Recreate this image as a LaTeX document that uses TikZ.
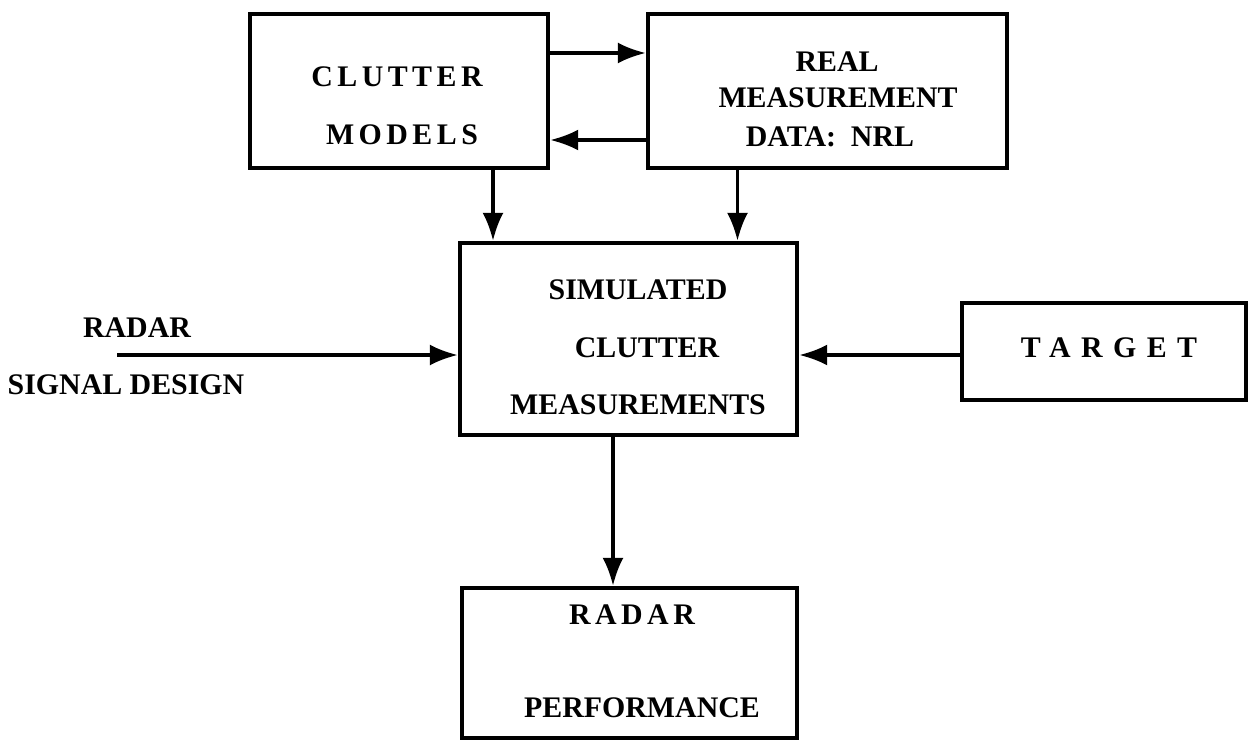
\documentclass[tikz,border=0pt]{standalone}
\usepackage{fontspec}
\setmainfont{Liberation Serif}
\newfontfamily\spacedfont[LetterSpace=15]{Liberation Serif}
\newfontfamily\widefont[LetterSpace=35]{Liberation Serif}
\usepackage{tikz}
\usetikzlibrary{arrows.meta}

\begin{document}
\begin{tikzpicture}[
  box/.style={draw=black, line width=1.2pt, inner sep=0pt},
  lbl/.style={font=\fontsize{8.5}{10}\selectfont\bfseries, inner sep=0pt},
  spc/.style={font=\fontsize{8.5}{10}\spacedfont\bfseries, inner sep=0pt},
  wide/.style={font=\fontsize{8.5}{10}\widefont\bfseries, inner sep=0pt},
  arr/.style={draw=black, line width=1pt, -{Latex[length=8pt,width=6pt]}}
]
\useasboundingbox (0,0) rectangle (12.53,-7.42);

\node[box, minimum width=2.98cm, minimum height=1.54cm] (clutter) at (3.99,-0.91) {};
\node[box, minimum width=3.59cm, minimum height=1.54cm] (real) at (8.275,-0.91) {};
\node[box, minimum width=3.37cm, minimum height=1.92cm] (sim) at (6.285,-3.39) {};
\node[box, minimum width=2.84cm, minimum height=0.97cm] (target) at (11.04,-3.515) {};
\node[box, minimum width=3.35cm, minimum height=1.5cm] (perf) at (6.295,-6.63) {};

\node[spc] (cm1) at (3.97,-0.77) {CLUTTER};
\node[spc] (cm2) at (4.02,-1.35) {MODELS};
\node[lbl] (rm1) at (8.37,-0.62) {REAL};
\node[lbl] (rm2) at (8.38,-0.98) {MEASUREMENT};
\node[lbl] (rm3) at (8.30,-1.37) {DATA:\ \ NRL};
\node[lbl] (sm1) at (6.38,-2.90) {SIMULATED};
\node[lbl] (sm2) at (6.47,-3.48) {CLUTTER};
\node[lbl] (sm3) at (6.38,-4.05) {MEASUREMENTS};
\node[lbl] (rd1) at (1.37,-3.28) {RADAR};
\node[lbl] (rd2) at (1.26,-3.85) {SIGNAL DESIGN};
\node[wide] (tg) at (11.09,-3.48) {TARGET};
\node[spc] (rp1) at (6.32,-6.15) {RADAR};
\node[lbl] (rp2) at (6.42,-7.08) {PERFORMANCE};

\coordinate (rdin) at (1.17,-3.55);
\draw[arr] (rdin) -- (rdin -| sim.west);
\draw[arr] (target.west |- rdin) -- (sim.east |- rdin);
\draw[arr] ([yshift=0.38cm]clutter.east) -- ([yshift=0.38cm]real.west);
\draw[arr] ([yshift=-0.49cm]real.west) -- ([yshift=-0.49cm]clutter.east);
\draw[arr] ([xshift=0.94cm]clutter.south) -- ([xshift=0.94cm]clutter.south |- sim.north);
\draw[arr] ([xshift=-0.9cm]real.south) -- ([xshift=-0.9cm]real.south |- sim.north);
\draw[arr] ([xshift=-0.155cm]sim.south) -- ([xshift=-0.155cm]sim.south |- perf.north);
\end{tikzpicture}
\end{document}
